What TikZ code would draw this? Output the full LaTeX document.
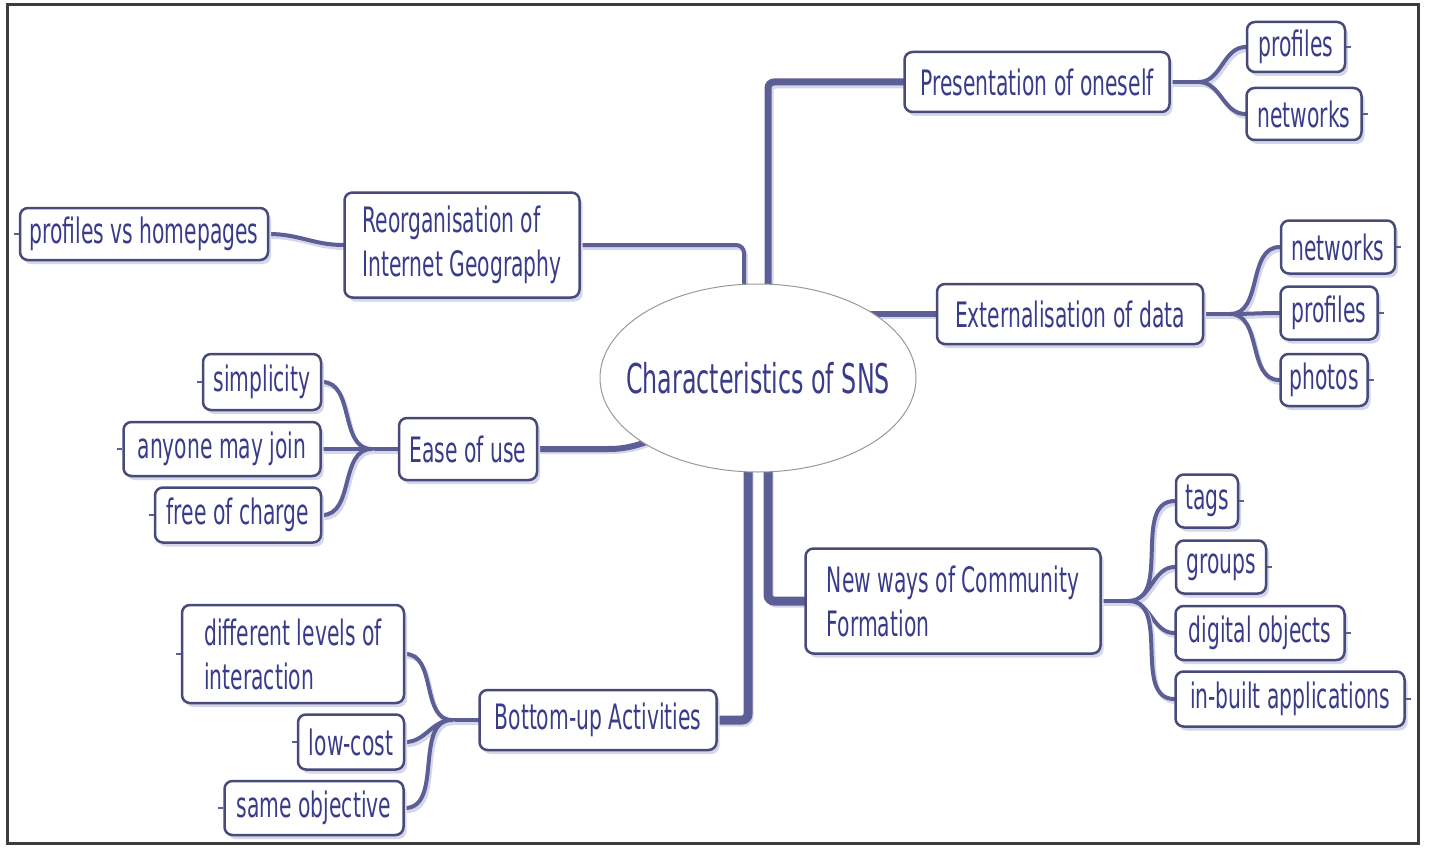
\documentclass[tikz,border=0pt]{standalone}
\usepackage{fontspec}
\setmainfont[FakeStretch=0.58]{DejaVu Sans}
\usetikzlibrary{shapes.geometric,shadows,backgrounds}
\definecolor{textc}{RGB}{58,60,138}
\definecolor{linec}{RGB}{92,94,150}
\definecolor{boxc}{RGB}{72,74,122}
\definecolor{shadowc}{RGB}{214,214,234}
\definecolor{framec}{RGB}{60,60,60}
\tikzset{
  box/.style={draw=boxc, line width=2.5pt, rounded corners=8pt, fill=white, text=textc,
    font=\fontsize{35}{44}\selectfont, inner sep=4pt, align=center,
    drop shadow={shadow xshift=3pt,shadow yshift=-4pt,fill=shadowc,opacity=1}},
  mlbox/.style={box, align=left},
  conn/.style={draw=linec, line width=4pt, line cap=round,
    preaction={draw=shadowc, line width=4pt, transform canvas={xshift=2pt,yshift=-3pt}}},
  trunk/.style={conn, line width=7pt, rounded corners=6pt,
    preaction={draw=shadowc, line width=7pt, transform canvas={xshift=2pt,yshift=-3pt}}},
  stub/.style={draw=linec, line width=2.5pt},
  centre/.style={ellipse, draw=gray!80, line width=1pt, fill=white, inner sep=0pt,
    minimum width=316pt, minimum height=188pt},
  centretext/.style={text=textc, font=\fontsize{41}{50}\selectfont, inner sep=0pt}
}
\begin{document}
\begin{tikzpicture}[x=1pt,y=-1pt]
\useasboundingbox (0,0) rectangle (1429,848);
\draw[framec, line width=3pt] (7,5) rectangle (1418,843);

% centre
\node[centre] (c) at (758,378) {};
\node[centretext] (ct) at (c.center) {Characteristics of SNS};

% right main
\node[box, minimum width=265pt, minimum height=60pt] (P) at (1037,82) {Presentation of oneself};
\node[box, minimum width=98pt, minimum height=50pt] (p1) at (1296,47) {profiles};
\node[box, minimum width=115pt, minimum height=52pt] (p2) at (1304,114) {networks};

\node[box, minimum width=266pt, minimum height=60pt] (E) at (1070,314) {Externalisation of data};
\node[box, minimum width=114pt, minimum height=53pt] (e1) at (1338,247) {networks};
\node[box, minimum width=97pt, minimum height=53pt] (e2) at (1329,313) {profiles};
\node[box, minimum width=87pt, minimum height=52pt] (e3) at (1324,380) {photos};

\node[mlbox, minimum width=295pt, minimum height=105pt] (N) at (953,601) {New ways of Community\\Formation};
\node[box, minimum width=62pt, minimum height=53pt] (n1) at (1207,501) {tags};
\node[box, minimum width=90pt, minimum height=53pt] (n2) at (1221,567) {groups};
\node[box, minimum width=169pt, minimum height=54pt] (n3) at (1260,633) {digital objects};
\node[box, minimum width=229pt, minimum height=55pt] (n4) at (1290,699) {in-built applications};

% left main
\node[mlbox, minimum width=235pt, minimum height=105pt] (R) at (462,245) {Reorganisation of\\Internet Geography};
\node[box, minimum width=248pt, minimum height=52pt] (r1) at (144,234) {profiles vs homepages};

\node[box, minimum width=138pt, minimum height=62pt] (U) at (468,449) {Ease of use};
\node[box, minimum width=118pt, minimum height=56pt] (u1) at (262,382) {simplicity};
\node[box, minimum width=197pt, minimum height=54pt] (u2) at (222,449) {anyone may join};
\node[box, minimum width=166pt, minimum height=55pt] (u3) at (238,515) {free of charge};

\node[box, minimum width=237pt, minimum height=60pt] (B) at (598,720) {Bottom-up Activities};
\node[mlbox, minimum width=222pt, minimum height=98pt] (b1) at (293,654) {different levels of\\interaction};
\node[box, minimum width=106pt, minimum height=55pt] (b2) at (351,742) {low-cost};
\node[box, minimum width=179pt, minimum height=54pt] (b3) at (314,808) {same objective};

% junction coordinates
\coordinate (pj) at ([xshift=28pt]P.east);
\coordinate (ej) at ([xshift=26pt]E.east);
\coordinate (nj) at ([xshift=27pt]N.east);
\coordinate (uj) at ([xshift=-26pt]U.west);
\coordinate (bj) at ([xshift=-26pt]B.west);
\coordinate (ctop) at (768,330);
\coordinate (rin) at (744,330);
\coordinate (ein) at (860,314);
\coordinate (uin) at (660,437);
\coordinate (bin) at (748,440);
\coordinate (nin) at (768,440);

\begin{scope}[on background layer]
  % main connectors
  \draw[trunk] (ctop) |- (P.west);
  \draw[conn, rounded corners=8pt] (R.east) -| (rin);
  \draw[conn, line width=6pt] (ein) -- (E.west);
  \draw[conn, line width=6pt] (U.east) -- ++(70,0) to[out=0,in=200] (uin);
  \draw[trunk, line width=9pt] (bin) |- (B.east);
  \draw[trunk, line width=9pt] (nin) |- (N.west);
  % sub connectors right
  \draw[conn] (P.east) -- (pj);
  \foreach \k in {p1,p2} \draw[conn] (pj) to[out=0,in=180] (\k.west);
  \draw[conn] (E.east) -- (ej);
  \foreach \k in {e1,e2,e3} \draw[conn] (ej) to[out=0,in=180] (\k.west);
  \draw[conn] (N.east) -- (nj);
  \foreach \k in {n1,n2,n3,n4} \draw[conn] (nj) to[out=0,in=180] (\k.west);
  % sub connectors left
  \draw[conn] (R.west) to[out=180,in=0] (r1.east);
  \draw[conn] (U.west) -- (uj);
  \foreach \k in {u1,u2,u3} \draw[conn] (uj) to[out=180,in=0] (\k.east);
  \draw[conn] (B.west) -- (bj);
  \foreach \k in {b1,b2,b3} \draw[conn] (bj) to[out=180,in=0] (\k.east);
\end{scope}

% leaf stubs
\foreach \k in {p1,p2,e1,e2,e3,n1,n2,n3,n4} \draw[stub] (\k.east) -- ++(5,0);
\foreach \k in {r1,u1,u2,u3,b1,b2,b3} \draw[stub] (\k.west) -- ++(-5,0);
\end{tikzpicture}
\end{document}
